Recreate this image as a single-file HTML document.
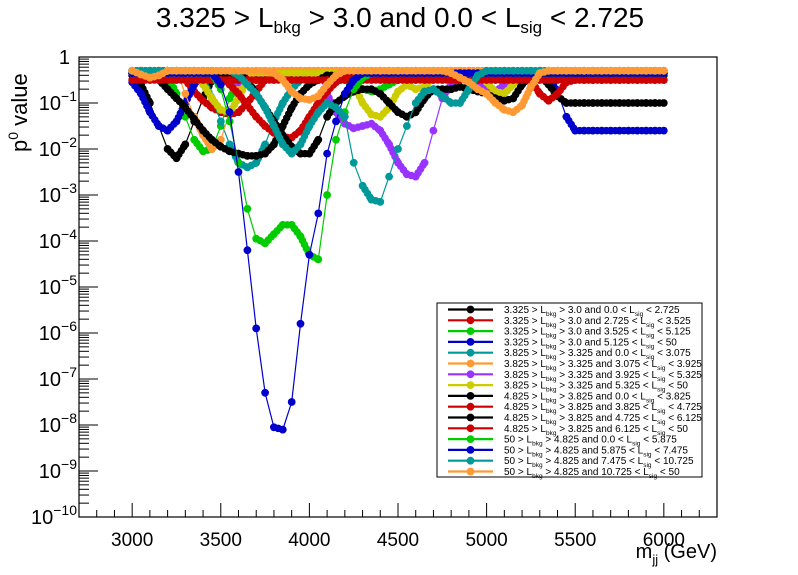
<!DOCTYPE html>
<html><head><meta charset="utf-8"><style>
html,body{margin:0;padding:0;background:#fff;}
svg{display:block;font-family:"Liberation Sans",Arial,sans-serif;}
</style></head><body>
<svg id="chart" width="798" height="575" viewBox="0 0 798 575" xmlns="http://www.w3.org/2000/svg">
<rect width="798" height="575" fill="#fff"/>
<text x="400" y="27" font-size="28" text-anchor="middle">3.325 &gt; L<tspan font-size="17" dy="6">bkg</tspan><tspan dy="-6"> &gt; 3.0 and 0.0 &lt;  L</tspan><tspan font-size="17" dy="6">sig</tspan><tspan dy="-6"> &lt; 2.725</tspan></text>
<g id="plot"></g>
<rect x="79" y="57" width="638" height="460" fill="none" stroke="#000" stroke-width="1.2"/>
<g id="axes"></g>
<text transform="translate(27,152) rotate(-90)" font-size="22">p<tspan font-size="14" dy="-9">0</tspan><tspan dy="9"> value</tspan></text>
<text x="717" y="558" font-size="20" text-anchor="end">m<tspan font-size="13" dy="6">jj</tspan><tspan dy="-6"> (GeV)</tspan></text>
<g id="legend"></g>
</svg>
<script>
const masses = [3000,3050,3100,3150,3200,3250,3300,3350,3400,3450,3500,3550,3600,3650,3700,3750,3800,3850,3900,3950,4000,4050,4100,4150,4200,4250,4300,4350,4400,4450,4500,4550,4600,4650,4700,4750,4800,4850,4900,4950,5000,5050,5100,5150,5200,5250,5300,5350,5400,5450,5500,5550,5600,5650,5700,5750,5800,5850,5900,5950,6000];
const xTicks = [3000,3500,4000,4500,5000,5500,6000];
const yDecades = [0,-1,-2,-3,-4,-5,-6,-7,-8,-9,-10];
const s1 = [-0.4,-0.6,-1.0,-1.5,-2.0,-2.2,-1.9,-1.4,-0.9,-0.5,
-0.35,-0.35,-0.4,-0.45,-0.5,-0.5,-0.45,-0.4,-0.35,-0.35,
-0.35,-0.35,-0.35,-0.35,-0.35,-0.35,-0.35,-0.35,-0.35,-0.35,
-0.35,-0.35,-0.35,-0.35,-0.35,-0.35,-0.35,-0.35,-0.35,-0.35,
-0.35,-0.35,-0.35,-0.35,-0.35,-0.35,-0.35,-0.35,-0.35,-0.35,
-0.35,-0.35,-0.35,-0.35,-0.35,-0.35,-0.35,-0.35,-0.35,-0.35,-0.35];
const s2 = [-0.3,-0.3,-0.3,-0.3,-0.3,-0.3,-0.5,-0.75,-0.95,-1.1,
-1.2,-1.25,-1.2,-1.0,-0.75,-0.5,-0.35,-0.3,-0.3,-0.3,
-0.3,-0.3,-0.3,-0.3,-0.3,-0.3,-0.3,-0.3,-0.3,-0.3,
-0.3,-0.3,-0.3,-0.3,-0.3,-0.3,-0.3,-0.3,-0.3,-0.3,
-0.3,-0.3,-0.3,-0.3,-0.3,-0.3,-0.3,-0.3,-0.3,-0.3,
-0.3,-0.3,-0.3,-0.3,-0.3,-0.3,-0.3,-0.3,-0.3,-0.3,-0.3];
const s3 = [-0.35,-0.35,-0.35,-0.35,-0.4,-0.8,-1.3,-1.8,-2.05,-2.0,
-1.5,-0.9,-0.5,-0.4,-0.35,-0.35,-0.35,-0.35,-0.35,-0.35,
-0.35,-0.35,-0.35,-0.4,-0.5,-0.6,-0.7,-0.75,-0.7,-0.6,
-0.5,-0.4,-0.35,-0.35,-0.35,-0.35,-0.35,-0.35,-0.35,-0.35,
-0.35,-0.35,-0.35,-0.35,-0.35,-0.35,-0.35,-0.35,-0.35,-0.35,
-0.35,-0.35,-0.35,-0.35,-0.35,-0.35,-0.35,-0.35,-0.35,-0.35,-0.35];
const s4 = [-0.55,-0.8,-1.2,-1.5,-1.6,-1.4,-1.0,-0.6,-0.4,-0.35,
-0.35,-0.35,-0.35,-0.35,-0.35,-0.35,-0.35,-0.35,-0.35,-0.35,
-0.35,-0.35,-0.35,-0.35,-0.35,-0.35,-0.35,-0.35,-0.35,-0.35,
-0.35,-0.35,-0.35,-0.35,-0.35,-0.35,-0.35,-0.35,-0.35,-0.35,
-0.35,-0.35,-0.35,-0.35,-0.35,-0.35,-0.35,-0.45,-0.75,-1.3,
-1.6,-1.6,-1.6,-1.6,-1.6,-1.6,-1.6,-1.6,-1.6,-1.6,-1.6];
const s5 = [-0.3,-0.3,-0.3,-0.3,-0.3,-0.3,-0.3,-0.3,-0.5,-0.9,
-1.4,-1.9,-2.3,-2.4,-2.3,-1.9,-1.4,-1.0,-0.7,-0.5,
-0.35,-0.35,-0.35,-0.35,-0.35,-0.35,-0.35,-0.35,-0.35,-0.35,
-0.35,-0.35,-0.35,-0.35,-0.35,-0.35,-0.35,-0.35,-0.35,-0.35,
-0.35,-0.35,-0.35,-0.35,-0.35,-0.35,-0.35,-0.35,-0.35,-0.35,
-0.35,-0.35,-0.35,-0.35,-0.35,-0.35,-0.35,-0.35,-0.35,-0.35,-0.35];
const s6 = [-0.3,-0.3,-0.3,-0.3,-0.3,-0.3,-0.8,-1.3,-1.7,-2.0,
-1.8,-1.2,-0.7,-0.4,-0.3,-0.3,-0.3,-0.3,-0.3,-0.3,
-0.3,-0.3,-0.3,-0.3,-0.3,-0.3,-0.3,-0.3,-0.3,-0.3,
-0.3,-0.3,-0.3,-0.3,-0.3,-0.3,-0.3,-0.3,-0.3,-0.3,
-0.3,-0.3,-0.3,-0.3,-0.3,-0.3,-0.3,-0.3,-0.3,-0.3,
-0.3,-0.3,-0.3,-0.3,-0.3,-0.3,-0.3,-0.3,-0.3,-0.3,-0.3];
const s7 = [-0.35,-0.35,-0.35,-0.35,-0.35,-0.35,-0.35,-0.35,-0.35,-0.35,
-0.35,-0.55,-0.55,-0.35,-0.35,-0.35,-0.35,-0.35,-0.35,-0.35,
-0.35,-0.35,-0.8,-1.2,-1.45,-1.55,-1.5,-1.45,-1.6,-1.9,
-2.3,-2.55,-2.6,-2.3,-1.6,-0.9,-0.6,-0.45,-0.5,-0.6,
-0.7,-0.75,-0.6,-0.4,-0.35,-0.35,-0.35,-0.35,-0.35,-0.35,
-0.35,-0.35,-0.35,-0.35,-0.35,-0.35,-0.35,-0.35,-0.35,-0.35,-0.35];
const s8 = [-0.35,-0.35,-0.35,-0.35,-0.35,-0.35,-0.35,-0.35,-0.6,-0.9,
-1.15,-1.2,-0.9,-0.5,-0.35,-0.35,-0.35,-0.35,-0.35,-0.35,
-0.35,-0.35,-0.35,-0.35,-0.35,-0.6,-1.0,-1.25,-1.3,-1.1,
-0.75,-0.6,-0.7,-0.65,-0.45,-0.35,-0.35,-0.35,-0.35,-0.35,
-0.55,-0.75,-0.8,-0.6,-0.4,-0.35,-0.35,-0.35,-0.35,-0.35,
-0.35,-0.35,-0.35,-0.35,-0.35,-0.35,-0.35,-0.35,-0.35,-0.35,-0.35];
const s9 = [-0.35,-0.35,-0.4,-0.5,-0.7,-0.9,-1.1,-1.35,-1.6,-1.8,
-1.95,-2.05,-2.1,-2.15,-2.15,-2.1,-1.9,-1.5,-1.1,-0.8,
-0.6,-0.5,-0.4,-0.4,-0.4,-0.4,-0.4,-0.4,-0.4,-0.4,
-0.4,-0.4,-0.4,-0.4,-0.4,-0.4,-0.4,-0.4,-0.4,-0.4,
-0.4,-0.4,-0.4,-0.4,-0.4,-0.4,-0.4,-0.6,-0.85,-1.0,
-1.0,-1.0,-1.0,-1.0,-1.0,-1.0,-1.0,-1.0,-1.0,-1.0,-1.0];
const s10 = [-0.3,-0.3,-0.3,-0.3,-0.3,-0.3,-0.3,-0.3,-0.3,-0.3,
-0.4,-0.6,-0.8,-1.05,-1.3,-1.5,-1.65,-1.75,-1.75,-1.6,
-1.3,-1.0,-0.75,-0.55,-0.45,-0.45,-0.45,-0.45,-0.45,-0.45,
-0.45,-0.45,-0.45,-0.45,-0.45,-0.45,-0.45,-0.45,-0.45,-0.45,
-0.45,-0.45,-0.45,-0.45,-0.45,-0.5,-0.8,-0.95,-0.8,-0.55,
-0.5,-0.5,-0.5,-0.5,-0.5,-0.5,-0.5,-0.5,-0.5,-0.5,-0.5];
const s11 = [-0.35,-0.35,-0.35,-0.35,-0.35,-0.35,-0.35,-0.35,-0.35,-0.35,
-0.35,-0.35,-0.35,-0.5,-0.8,-1.1,-1.4,-1.7,-1.95,-2.1,
-2.1,-1.8,-1.3,-1.0,-0.85,-0.75,-0.7,-0.7,-0.8,-1.0,
-1.2,-1.3,-1.2,-0.9,-0.7,-0.7,-0.7,-0.65,-0.7,-0.75,
-0.8,-0.9,-0.95,-0.9,-0.6,-0.4,-0.4,-0.4,-0.4,-0.4,
-0.4,-0.4,-0.4,-0.4,-0.4,-0.4,-0.4,-0.4,-0.4,-0.4,-0.4];
const s12 = [-0.5,-0.5,-0.5,-0.5,-0.5,-0.5,-0.5,-0.5,-0.5,-0.5,
-0.5,-0.5,-0.5,-0.5,-0.5,-0.5,-0.5,-0.5,-0.5,-0.5,
-0.5,-0.5,-0.5,-0.5,-0.5,-0.5,-0.5,-0.5,-0.5,-0.5,
-0.5,-0.5,-0.5,-0.5,-0.5,-0.5,-0.5,-0.5,-0.5,-0.5,
-0.5,-0.5,-0.5,-0.5,-0.5,-0.5,-0.5,-0.5,-0.5,-0.5,
-0.5,-0.5,-0.5,-0.5,-0.5,-0.5,-0.5,-0.5,-0.5,-0.5,-0.5];
const s13 = [-0.35,-0.35,-0.35,-0.35,-0.35,-0.35,-0.35,-0.35,-0.35,-0.35,
-0.7,-1.4,-2.3,-3.3,-3.95,-4.05,-3.85,-3.65,-3.65,-3.9,
-4.3,-4.4,-3.0,-1.8,-1.2,-0.7,-0.45,-0.35,-0.35,-0.35,
-0.35,-0.35,-0.35,-0.35,-0.35,-0.35,-0.35,-0.35,-0.35,-0.35,
-0.35,-0.35,-0.35,-0.35,-0.35,-0.35,-0.35,-0.35,-0.35,-0.35,
-0.35,-0.35,-0.35,-0.35,-0.35,-0.35,-0.35,-0.35,-0.35,-0.35,-0.35];
const s14 = [-0.35,-0.35,-0.35,-0.35,-0.35,-0.35,-0.35,-0.35,-0.35,-0.35,
-0.6,-1.2,-2.5,-4.2,-5.9,-7.3,-8.05,-8.1,-7.5,-5.8,
-4.3,-3.4,-2.1,-1.4,-0.8,-0.5,-0.35,-0.35,-0.35,-0.35,
-0.35,-0.35,-0.35,-0.35,-0.35,-0.35,-0.35,-0.35,-0.35,-0.35,
-0.35,-0.35,-0.35,-0.35,-0.35,-0.35,-0.35,-0.35,-0.35,-0.35,
-0.35,-0.35,-0.35,-0.35,-0.35,-0.35,-0.35,-0.35,-0.35,-0.35,-0.35];
const s15 = [-0.3,-0.3,-0.3,-0.3,-0.3,-0.3,-0.3,-0.3,-0.3,-0.3,
-0.3,-0.3,-0.4,-0.6,-0.8,-1.1,-1.5,-1.9,-2.1,-1.9,
-1.5,-1.2,-1.0,-1.1,-1.3,-2.3,-2.8,-3.1,-3.15,-2.6,
-2.0,-1.5,-1.0,-0.75,-0.7,-0.85,-1.0,-1.0,-0.7,-0.4,
-0.3,-0.3,-0.3,-0.3,-0.3,-0.3,-0.3,-0.3,-0.3,-0.3,
-0.3,-0.3,-0.3,-0.3,-0.3,-0.3,-0.3,-0.3,-0.3,-0.3,-0.3];
const s16 = [-0.3,-0.38,-0.45,-0.4,-0.3,-0.3,-0.3,-0.3,-0.3,-0.3,
-0.3,-0.3,-0.3,-0.3,-0.3,-0.3,-0.35,-0.5,-0.75,-0.9,
-0.93,-0.85,-0.6,-0.4,-0.3,-0.3,-0.3,-0.3,-0.3,-0.3,
-0.3,-0.3,-0.3,-0.3,-0.3,-0.3,-0.35,-0.45,-0.55,-0.7,
-0.8,-1.0,-1.15,-1.2,-1.05,-0.65,-0.35,-0.3,-0.3,-0.3,
-0.3,-0.3,-0.3,-0.3,-0.3,-0.3,-0.3,-0.3,-0.3,-0.3,-0.3];
const seriesValues = [s1,s2,s3,s4,s5,s6,s7,s8,s9,s10,s11,s12,s13,s14,s15,s16];
const seriesColors = ["#000000","#cc0000","#00cc00","#0000cc","#009999","#ff9933","#9933ff","#cccc00","#000000","#cc0000","#000000","#cc0000","#00cc00","#0000cc","#009999","#ff9933"];
const legendBkg = ["3.325 > L|bkg| > 3.0 and 0.0 <  L|sig| < 2.725","3.325 > L|bkg| > 3.0 and 2.725 <  L|sig| < 3.525","3.325 > L|bkg| > 3.0 and 3.525 <  L|sig| < 5.125","3.325 > L|bkg| > 3.0 and 5.125 <  L|sig| < 50","3.825 > L|bkg| > 3.325 and 0.0 <  L|sig| < 3.075","3.825 > L|bkg| > 3.325 and 3.075 <  L|sig| < 3.925","3.825 > L|bkg| > 3.325 and 3.925 <  L|sig| < 5.325","3.825 > L|bkg| > 3.325 and 5.325 <  L|sig| < 50","4.825 > L|bkg| > 3.825 and 0.0 <  L|sig| < 3.825","4.825 > L|bkg| > 3.825 and 3.825 <  L|sig| < 4.725","4.825 > L|bkg| > 3.825 and 4.725 <  L|sig| < 6.125","4.825 > L|bkg| > 3.825 and 6.125 <  L|sig| < 50","50 > L|bkg| > 4.825 and 0.0 <  L|sig| < 5.875","50 > L|bkg| > 4.825 and 5.875 <  L|sig| < 7.475","50 > L|bkg| > 4.825 and 7.475 <  L|sig| < 10.725","50 > L|bkg| > 4.825 and 10.725 <  L|sig| < 50"];

const NS = "http://www.w3.org/2000/svg";
const X0 = 79, X1 = 717, Y0 = 517, Y1 = 57, XMIN = 2700, XMAX = 6300, LMIN = -10, LMAX = 0;
function xScale(v){ return X0 + (v - XMIN) / (XMAX - XMIN) * (X1 - X0); }
function yScale(l){ return Y0 - (l - LMIN) / (LMAX - LMIN) * (Y0 - Y1); }
function mk(tag, attrs, parent){ const e = document.createElementNS(NS, tag); for (const k in attrs) e.setAttribute(k, attrs[k]); parent.appendChild(e); return e; }

const plot = document.getElementById('plot');
seriesValues.forEach(function(vals, si){
  const g = mk('g', {}, plot);
  
  
  let d = '', dTrail = '';
  vals.forEach(function(l, i){
    const x = xScale(masses[i]).toFixed(1), y = yScale(l).toFixed(1);
    d += (i ? 'L' : 'M') + x + ' ' + y;
    if (i > 0) {
      const xp = xScale(masses[i-1]).toFixed(1), yp = yScale(vals[i-1]).toFixed(1);
      if (Math.abs(y - yp) <= 20) dTrail += 'M' + xp + ' ' + yp + 'L' + x + ' ' + y;
    }
  });
  const line = mk('path', {d: d, fill: 'none', stroke: seriesColors[si], 'stroke-width': 1.2}, g);
  
  
  if (dTrail) {
    const dots = mk('path', {d: dTrail, fill: 'none', stroke: seriesColors[si], 'stroke-width': 7.5, 'stroke-linecap': 'round', 'stroke-linejoin': 'round', 'stroke-dasharray': '0 4.5'}, g);
    
    
  }
  vals.forEach(function(l, i){
    const c = mk('circle', {cx: xScale(masses[i]).toFixed(1), cy: yScale(l).toFixed(1), r: 3.9, fill: seriesColors[si]}, g);
    
    
  });
});

const axes = document.getElementById('axes');
for (let v = XMIN; v <= XMAX; v += 100) {
  const major = xTicks.indexOf(v) >= 0;
  const t = mk('line', {x1: xScale(v), x2: xScale(v), y1: Y0, y2: Y0 - (major ? 14 : 7), stroke: '#000', 'stroke-width': 1}, axes);
  
  
}
xTicks.forEach(function(v){
  const t = mk('text', {x: xScale(v), y: 546, 'font-size': 19, 'text-anchor': 'middle'}, axes);
  t.textContent = v;
  
  
});
yDecades.forEach(function(dec){
  const y = yScale(dec);
  const t = mk('line', {x1: X0, x2: X0 + 19, y1: y, y2: y, stroke: '#000', 'stroke-width': 1}, axes);
  
  
  if (dec > LMIN) {
    for (let m = 2; m <= 9; m++) {
      const ym = yScale(dec - 1 + Math.log10(m));
      const mt = mk('line', {x1: X0, x2: X0 + 10, y1: ym, y2: ym, stroke: '#000', 'stroke-width': 1}, axes);
      
      
    }
  }
  const lab = mk('text', {x: 72, y: y + 7, 'font-size': 20, 'text-anchor': 'end'}, axes);
  
  
  if (dec === 0) { lab.textContent = '1'; lab.setAttribute('x', 70); }
  else {
    lab.setAttribute('x', 77);
    const a = mk('tspan', {}, lab); a.textContent = '10';
    const b = mk('tspan', {'font-size': 14, dy: -9}, lab); b.textContent = '\u2212' + (-dec);
  }
});

const leg = document.getElementById('legend');
const box = mk('rect', {x: 437, y: 303, width: 265, height: 174, fill: '#fff', stroke: '#000', 'stroke-width': 1}, leg);


legendBkg.forEach(function(label, i){
  const y = 309.5 + i * 10.8;
  const g = mk('g', {}, leg);
  
  
  mk('line', {x1: 448, x2: 493, y1: y, y2: y, stroke: seriesColors[i], 'stroke-width': 2.2}, g);
  mk('circle', {cx: 470.5, cy: y, r: 3.9, fill: seriesColors[i]}, g);
  const t = mk('text', {x: 504, y: y + 3.5, 'font-size': 10}, g);
  const parts = label.split('|');
  parts.forEach(function(p, k){
    const ts = mk('tspan', k % 2 ? {'font-size': 6.5, dy: 3} : (k ? {dy: -3} : {}), t);
    ts.textContent = p;
  });
});
</script>
</body></html>
